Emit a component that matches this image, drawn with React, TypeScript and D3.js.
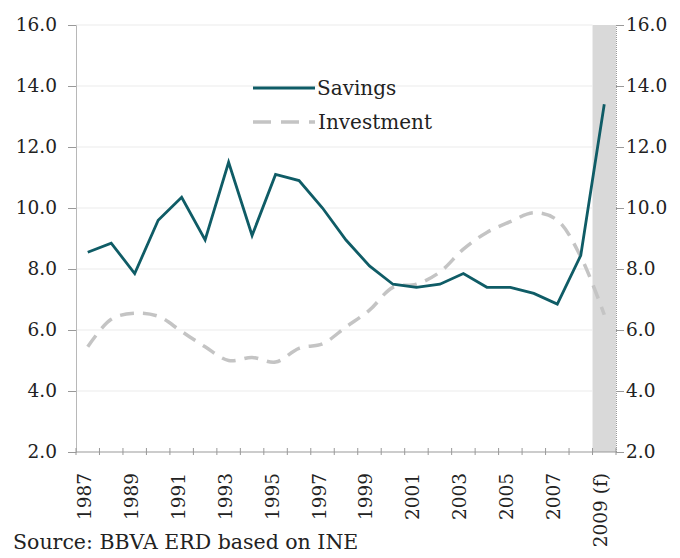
import React, { useEffect, useRef } from "react";
import * as d3 from "d3";

const years = [
  "1987", "1988", "1989", "1990", "1991", "1992", "1993", "1994", "1995", "1996", "1997", "1998",
  "1999", "2000", "2001", "2002", "2003", "2004", "2005", "2006", "2007", "2008", "2009",
];
const savings = [
  8.55, 8.85, 7.85, 9.6, 10.35, 8.95, 11.5, 9.1, 11.1, 10.9, 10.0, 8.95,
  8.1, 7.5, 7.4, 7.5, 7.85, 7.4, 7.4, 7.2, 6.85, 8.45, 13.4,
];
const investment = [
  5.45, 6.35, 6.55, 6.45, 5.95, 5.45, 5.0, 5.1, 4.95, 5.4, 5.55, 6.1,
  6.65, 7.4, 7.5, 7.9, 8.65, 9.2, 9.55, 9.85, 9.6, 8.4, 6.5,
];
const yTicks = [2, 4, 6, 8, 10, 12, 14, 16];
const xLabels = ["1987", "1989", "1991", "1993", "1995", "1997", "1999", "2001", "2003", "2005", "2007", "2009 (f)"];
const forecastYear = "2009";

const W = 680;
const H = 558;
const left = 76;
const right = 616;
const top = 25;
const bottom = 452;
const font = "'DejaVu Serif', 'Liberation Serif', serif";
const fs = "18.5px";

const App: React.FC = () => {
  const svgRef = useRef<SVGSVGElement>(null);

  useEffect(() => {
    const svg = d3.select(svgRef.current);
    svg.selectAll("*").remove();

    const x = d3.scaleBand<string>().domain(years).range([left, right]).padding(0);
    const y = d3.scaleLinear().domain([2, 16]).range([bottom, top]);
    const cx = (d: string) => (x(d) as number) + x.bandwidth() / 2;

    // forecast band
    svg.append("rect")
      .attr("x", x(forecastYear) as number)
      .attr("y", y(16))
      .attr("width", x.bandwidth())
      .attr("height", y(2) - y(16))
      .attr("fill", "#d9d9d9");

    // gridlines
    svg.append("g")
      .selectAll("line")
      .data(yTicks.slice(1))
      .enter()
      .append("line")
      .attr("x1", left)
      .attr("x2", x(forecastYear) as number)
      .attr("y1", (d) => y(d))
      .attr("y2", (d) => y(d))
      .attr("stroke", "#ececec")
      .attr("stroke-width", 1.2);

    // left axis
    const gl = svg.append("g").attr("transform", `translate(${left},0)`)
      .call(d3.axisLeft(y).tickValues(yTicks).tickSize(8).tickFormat(d3.format(".1f")));
    gl.select(".domain").attr("stroke", "#b8b8b8");
    gl.selectAll(".tick line").attr("stroke", "#999");
    gl.selectAll(".tick text")
      .attr("x", -19)
      .attr("fill", "#222")
      .style("font-family", font)
      .style("font-size", fs);

    // right axis
    const gr = svg.append("g").attr("transform", `translate(${right},0)`)
      .call(d3.axisRight(y).tickValues(yTicks).tickSize(8).tickFormat(d3.format(".1f")));
    gr.select(".domain").attr("stroke", "#999").attr("stroke-dasharray", "1,1");
    gr.selectAll(".tick line").attr("stroke", "#999");
    gr.selectAll(".tick text")
      .attr("x", 10)
      .attr("fill", "#222")
      .style("font-family", font)
      .style("font-size", fs);

    // bottom axis with ticks at category boundaries
    const boundaries = years.map((d) => x(d) as number).concat([right]);
    const gb = svg.append("g");
    gb.append("line")
      .attr("x1", left).attr("x2", right)
      .attr("y1", bottom).attr("y2", bottom)
      .attr("stroke", "#999");
    gb.selectAll("line.tk")
      .data(boundaries)
      .enter()
      .append("line")
      .attr("class", "tk")
      .attr("x1", (d) => d).attr("x2", (d) => d)
      .attr("y1", bottom - 4).attr("y2", bottom + 3)
      .attr("stroke", "#999");
    gb.selectAll("text")
      .data(xLabels)
      .enter()
      .append("text")
      .attr("transform", (d) => `translate(${cx(d.slice(0, 4)) + 3},${bottom + 21}) rotate(-90)`)
      .attr("text-anchor", "end")
      .attr("fill", "#222")
      .style("font-family", font)
      .style("font-size", fs)
      .text((d) => d);

    // lines
    const invLine = d3.line<number>()
      .x((_, i) => cx(years[i]))
      .y((d) => y(d))
      .curve(d3.curveCatmullRom.alpha(0.5));
    svg.append("path")
      .datum(investment)
      .attr("d", invLine)
      .attr("fill", "none")
      .attr("stroke", "#c4c4c4")
      .attr("stroke-width", 3.5)
      .attr("stroke-dasharray", "14,9");

    const savLine = d3.line<number>()
      .x((_, i) => cx(years[i]))
      .y((d) => y(d));
    svg.append("path")
      .datum(savings)
      .attr("d", savLine)
      .attr("fill", "none")
      .attr("stroke", "#0f5c66")
      .attr("stroke-width", 2.8)
      .attr("stroke-linejoin", "miter");

    // legend
    const lg = svg.append("g");
    lg.append("line")
      .attr("x1", 253).attr("x2", 315).attr("y1", 88).attr("y2", 88)
      .attr("stroke", "#0f5c66").attr("stroke-width", 2.8);
    lg.append("line")
      .attr("x1", 253).attr("x2", 315).attr("y1", 122).attr("y2", 122)
      .attr("stroke", "#c4c4c4").attr("stroke-width", 3.5)
      .attr("stroke-dasharray", "18,10");
    lg.append("text").attr("x", 317).attr("y", 95)
      .attr("fill", "#222").style("font-family", font).style("font-size", "20px")
      .text("Savings");
    lg.append("text").attr("x", 318).attr("y", 129)
      .attr("fill", "#222").style("font-family", font).style("font-size", "20px")
      .text("Investment");

    // source
    svg.append("text")
      .attr("x", 13).attr("y", 549)
      .attr("fill", "#222").style("font-family", font).style("font-size", "20.5px")
      .text("Source: BBVA ERD based on INE");
  }, []);

  return (
    <svg
      ref={svgRef}
      width={W}
      height={H}
      style={{ position: "absolute", left: 0, top: 0, background: "#fff" }}
    ></svg>
  );
};

export default App;
